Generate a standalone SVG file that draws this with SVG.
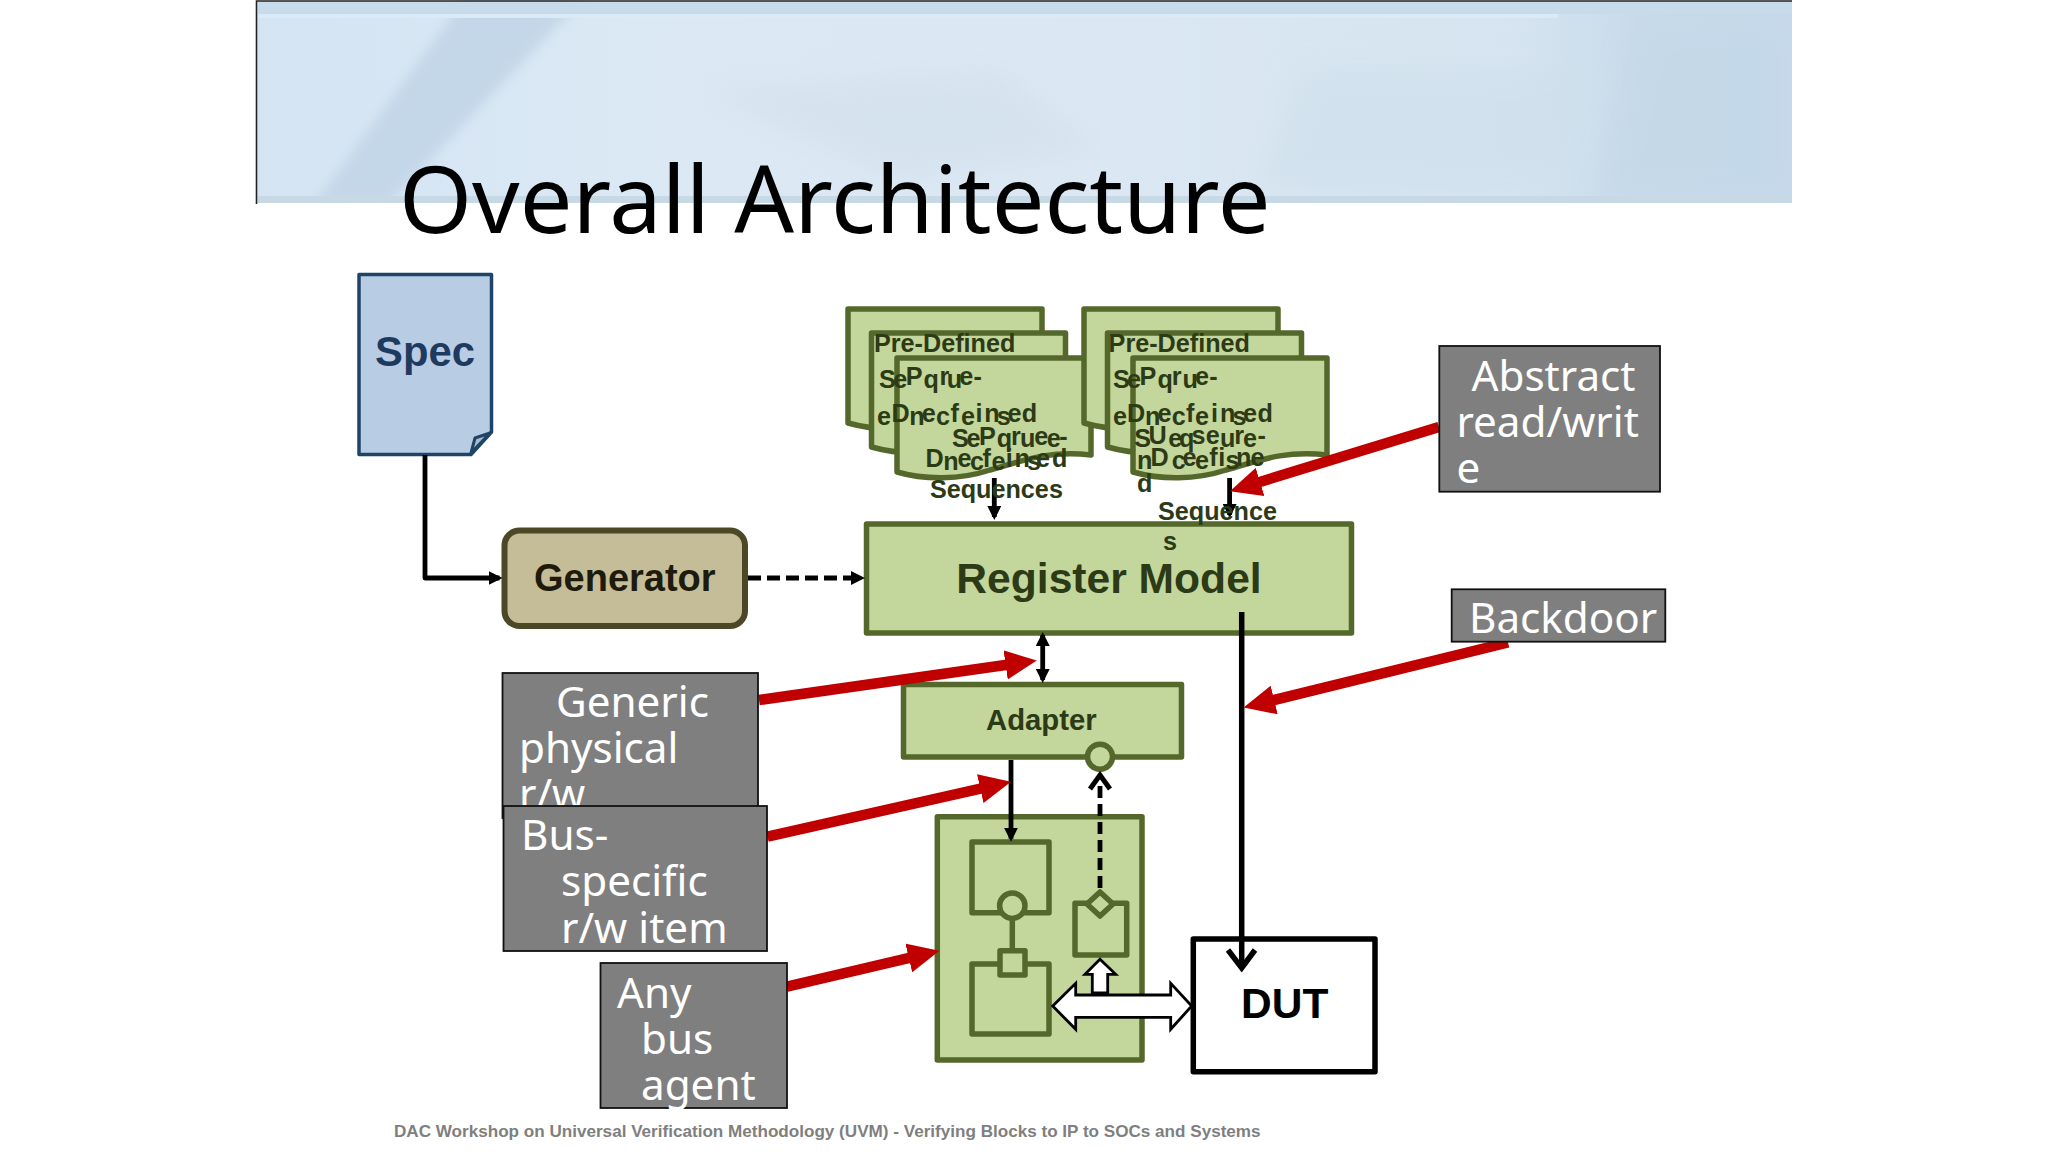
<svg xmlns="http://www.w3.org/2000/svg" width="2048" height="1152" viewBox="0 0 2048 1152">
<style>
.g{fill:#c3d69b;stroke:#55682b;stroke-width:5.5;stroke-linejoin:round}
.gl{fill:none;stroke:#55682b;stroke-width:5.5}
.box{fill:#7f7f7f;stroke:#111;stroke-width:1.8}
.w{font-family:"Noto Sans","Open Sans",sans-serif;font-size:42.2px;fill:#fff}
.b{font-family:"Liberation Sans",Arial,sans-serif;font-weight:bold}
.d{font-family:"Liberation Sans",Arial,sans-serif;font-weight:bold;font-size:25.2px;fill:#2c3a16}
.k{fill:none;stroke:#000;stroke-width:4.8}
.r{fill:none;stroke:#c00000;stroke-width:10.5}
</style>
<defs>
<linearGradient id="hdr" x1="0" y1="0" x2="1" y2="0">
<stop offset="0" stop-color="#d4e4f3"/><stop offset=".25" stop-color="#dbe9f5"/><stop offset=".55" stop-color="#dbe8f3"/><stop offset=".82" stop-color="#d5e4f0"/><stop offset=".9" stop-color="#c9dbea"/><stop offset="1" stop-color="#c5d9ea"/>
</linearGradient>
<filter id="soft" x="-20%" y="-20%" width="140%" height="140%"><feGaussianBlur stdDeviation="6"/></filter>
<filter id="soft2" x="-30%" y="-30%" width="160%" height="160%"><feGaussianBlur stdDeviation="14"/></filter>
<clipPath id="hc"><rect x="257" y="0" width="1535" height="203"/></clipPath>
<clipPath id="gc"><rect x="500" y="672" width="260" height="134"/></clipPath>
<path id="doc" d="M897,358H1091V455C1045,450 1020,462 990,470C960,480 925,480 897,472Z"/>
<marker id="rh" viewBox="0 0 30 28" refX="10" refY="14" markerWidth="3" markerHeight="2.8" orient="auto" markerUnits="strokeWidth"><path d="M0,0L30,14L0,28Z" fill="#c00000"/></marker>
<marker id="kh" viewBox="0 0 14 14" refX="11" refY="7" markerWidth="14" markerHeight="14" orient="auto-start-reverse" markerUnits="userSpaceOnUse"><path d="M0,0L14,7L0,14Z" fill="#000"/></marker>
</defs>

<g id="header">
<rect x="257" y="1" width="1535" height="202" fill="url(#hdr)"/>
<g clip-path="url(#hc)">
<path d="M1640,20H1792V200H1600Z" fill="#c3d8e8" filter="url(#soft2)" opacity=".7"/>
<path d="M1300,70L1600,70L1540,190L1260,190Z" fill="#cfe0ec" filter="url(#soft2)" opacity=".7"/>
<path d="M459,0H588L563,20L389,203H315L449,20Z" fill="#c4d7e8" filter="url(#soft)"/>
<path d="M700,90L1000,70L1100,150L900,180Z" fill="#d5e3ee" filter="url(#soft2)"/>
</g>
<rect x="258" y="2" width="1534" height="12" fill="#c8dbea"/>
<rect x="258" y="14" width="1300" height="4" fill="#dbeaf7"/>
<rect x="258" y="196" width="1534" height="7" fill="#c8d9e6"/>
<path d="M256.5,204V1H1792" fill="none" stroke="#222" stroke-width="1.6"/>
</g>
<text id="title" x="399" y="233" font-family="'Noto Sans','Open Sans',sans-serif" font-size="93.6" fill="#000">Overall Architecture</text>

<g id="spec">
<path d="M359,274.500H491.500V432L471,454.500H359Z" fill="#b8cce4" stroke="#1f4468" stroke-width="3.500" stroke-linejoin="round"/>
<path d="M490,433L475,438L471,453Z" fill="#a9bccb" stroke="#1f4468" stroke-width="3" stroke-linejoin="round"/>
<text class="b" x="375" y="366" font-size="41.800" fill="#1f3a5f">Spec</text>
</g>
<g id="generator">
<rect x="504.500" y="530.500" width="240.500" height="95.500" rx="15" fill="#c4bd97" stroke="#4c4726" stroke-width="6"/>
<text class="b" x="534" y="590.500" font-size="38" fill="#1e1a0c">Generator</text>
</g>
<g id="stack-left" class="g">
<use href="#doc" transform="translate(-49,-49)"/>
<use href="#doc" transform="translate(-25.500,-25)"/>
<use href="#doc"/>
</g>
<g id="stack-right" class="g">
<use href="#doc" transform="translate(187,-49)"/>
<use href="#doc" transform="translate(210.500,-25)"/>
<use href="#doc" transform="translate(236,0)"/>
</g>
<g id="register-model">
<rect class="g" x="866.500" y="524" width="485" height="109"/>
<text class="b" x="1109" y="593" font-size="42.600" fill="#2c3a16" text-anchor="middle">Register Model</text>
</g>
<g id="adapter">
<rect class="g" x="903.500" y="684.500" width="278" height="72.500"/>
<circle class="g" cx="1100" cy="756.700" r="12.500"/>
<text class="b" x="986" y="730" font-size="29.300" fill="#2c3a16">Adapter</text>
</g>
<g id="agent">
<rect class="g" x="937.300" y="816.700" width="204.700" height="243.300"/>
<rect class="g" x="972" y="842" width="77" height="70.700"/>
<rect class="g" x="972" y="964" width="77" height="70"/>
<path class="gl" d="M1012.300,918V952"/>
<circle class="g" cx="1012.300" cy="905.700" r="12.700"/>
<rect class="g" x="1000" y="950.700" width="25" height="24.300"/>
<rect class="g" x="1075" y="903.300" width="51.700" height="51.700"/>
<path class="g" d="M1100,892L1113,904L1100,916L1087,904Z"/>
</g>
<g id="dut">
<rect x="1193.300" y="939" width="181.700" height="132.700" fill="#fff" stroke="#000" stroke-width="5.500" stroke-linejoin="round"/>
<text class="b" x="1241" y="1018" font-size="42.500" fill="#000">DUT</text>
</g>

<g id="connectors">
<path class="k" d="M425,455V578H499.500" marker-end="url(#kh)" style="stroke-linejoin:round"/>
<path class="k" d="M748,578H862" stroke-dasharray="13 6" marker-end="url(#kh)"/>
<path class="k" d="M994.300,478V517" marker-end="url(#kh)"/>
<path class="k" d="M1229.600,478V515" marker-end="url(#kh)"/>
<path class="k" d="M1042.700,635V680" marker-start="url(#kh)" marker-end="url(#kh)"/>
<path class="k" d="M1011,760V838.700" marker-end="url(#kh)"/>
<path class="k" d="M1100,888V780" stroke-dasharray="12 6"/>
<path class="k" d="M1090,789L1100,775L1110,789" style="stroke-width:5"/>
<path class="k" d="M1241.700,612V968" style="stroke-width:5.500"/>
<path class="k" d="M1228,950L1241.700,968L1255,950" style="stroke-width:5.500"/>
<path d="M1100,959.300L1115.700,974.300H1107.700V993H1092.300V974.300H1085Z" fill="#fff" stroke="#000" stroke-width="2.800"/>
<path d="M1052.700,1006L1075.700,983.300V995H1170.700V983.300L1191.700,1006L1170.700,1029.300V1017.300H1075.700V1029.300Z" fill="#fff" stroke="#000" stroke-width="2.800"/>
<path class="r" d="M759,700L1016,663.500" marker-end="url(#rh)"/>
<path class="r" d="M767.500,836.700L990.500,786.400" marker-end="url(#rh)"/>
<path class="r" d="M787,986.700L919,955.600" marker-end="url(#rh)"/>
<path class="r" d="M1439,427L1250,485" marker-end="url(#rh)"/>
<path class="r" d="M1508,642.500L1264,702.500" marker-end="url(#rh)"/>
</g>

<g id="sequence-labels" class="d">
<text x="874" y="351.700">Pre-Defined</text>
<text x="879 893.200 923.600 946.800" y="388">Sequ</text>
<text x="905.700 939.600 959.300 973.600" y="385">Pre-</text>
<text x="877 909.300 936 961 996.800" y="425">ences</text>
<text x="891.400 921.800 950.400 975.400 984.300 1007.500 1021.800" y="422">Defined</text>
<text x="952 966.400 996.800 1020 1046.800" y="447">Seque</text>
<text x="979 1011 1034.300 1059.300" y="445">Pre-</text>
<text x="943.200 970 991.400 1027" y="470">nces</text>
<text x="925.400 957.500 982.500 1005.700 1014.600 1036 1052" y="467">Defined</text>
<text x="996.400" y="498" text-anchor="middle">Sequences</text>
<text x="1108.600" y="351.700">Pre-Defined</text>
<text x="1112.900 1127 1157.500 1182.500" y="388">Sequ</text>
<text x="1139.600 1171.800 1195 1209.300" y="385">Pre-</text>
<text x="1112.900 1145 1171.800 1195 1232.500" y="425">ences</text>
<text x="1127 1157.500 1186 1211 1220 1243 1257.500" y="422">Defined</text>
<text x="1134.300 1168.200 1179 1220 1243" y="447">Seque</text>
<text x="1148.600 1191.400 1205.700 1234.300 1257.500" y="444">User-</text>
<text x="1137 1171.800 1195 1225.400" y="469">nces</text>
<text x="1150.400 1182.500 1209.300 1218.200 1236 1250.400" y="466">Define</text>
<text x="1137" y="492">d</text>
<text x="1158" y="520">Sequence</text>
<text x="1162.900" y="550">s</text>
</g>

<g id="generic-rw">
<rect class="box" x="502.500" y="673" width="255.500" height="145"/>
<text class="w" x="556" y="717">Generic</text>
<text class="w" x="519" y="763">physical</text>
<text class="w" x="519" y="809" clip-path="url(#gc)">r/w</text>
</g>
<g id="bus-rw">
<rect class="box" x="503.500" y="806" width="263.500" height="145"/>
<text class="w" x="521" y="849.500">Bus-</text>
<text class="w" x="561" y="896">specific</text>
<text class="w" x="561" y="942.500">r/w item</text>
</g>
<g id="any-agent">
<rect class="box" x="600.500" y="963" width="186.500" height="145"/>
<text class="w" x="617" y="1007.500">Any</text>
<text class="w" x="641" y="1053.500">bus</text>
<text class="w" x="641" y="1099.500">agent</text>
</g>
<g id="abstract-rw">
<rect class="box" x="1439.300" y="346" width="220.700" height="145.700"/>
<text class="w" x="1471.500" y="391">Abstract</text>
<text class="w" x="1456.500" y="437">read/writ</text>
<text class="w" x="1456.500" y="483">e</text>
</g>
<g id="backdoor">
<rect class="box" x="1451.700" y="589.300" width="213.600" height="52.400"/>
<text class="w" x="1469" y="633">Backdoor</text>
</g>
<text id="footer" class="b" x="394" y="1137" font-size="17.100" fill="#7f7f7f">DAC Workshop on Universal Verification Methodology (UVM) - Verifying Blocks to IP to SOCs and Systems</text>
</svg>
